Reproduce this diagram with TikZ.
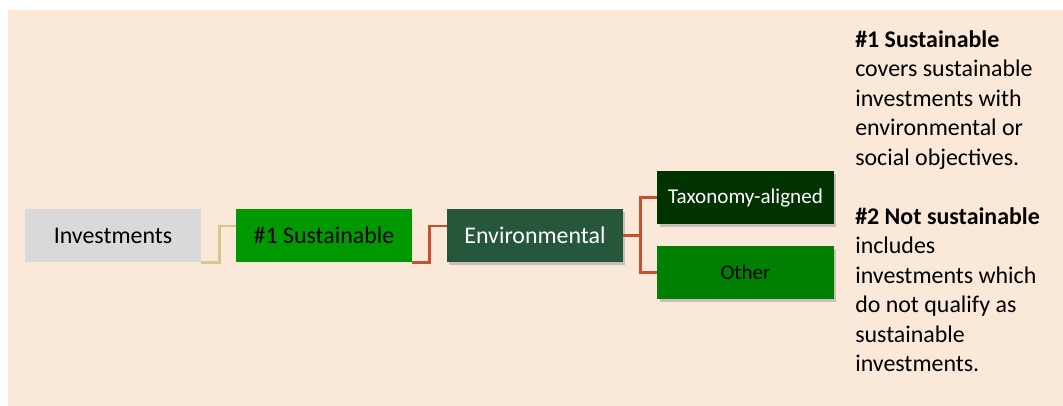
\documentclass[tikz,border=0pt]{standalone}
\usepackage{fontspec}
\setmainfont{Carlito}
\usetikzlibrary{calc}
\usetikzlibrary{positioning}
\usetikzlibrary{shadows}

\definecolor{bgbeige}{RGB}{250,232,216}
\definecolor{invgray}{RGB}{217,217,217}
\definecolor{susgreen}{RGB}{0,153,0}
\definecolor{envgreen}{RGB}{38,87,58}
\definecolor{taxgreen}{RGB}{0,51,0}
\definecolor{othgreen}{RGB}{0,128,0}
\definecolor{tanline}{RGB}{214,200,140}
\definecolor{redline}{RGB}{200,78,48}

\begin{document}
\begin{tikzpicture}[
  x=0.025cm, y=-0.025cm,
  catbox/.style={rectangle, minimum width=4.4cm, minimum height=1.325cm, inner sep=0pt, font=\fontsize{17}{20}\selectfont},
  subbox/.style={catbox, font=\fontsize{15}{18}\selectfont},
  shade box/.style={drop shadow={shadow xshift=1.5pt, shadow yshift=-1.8pt, fill=black!35, opacity=0.6}},
  link/.style={line width=1.8pt},
]

\useasboundingbox (0,0) rectangle (1063,406);
\fill[bgbeige] (8,10) rectangle (1063,406);

\node (inv) [catbox, fill=invgray] at (113,235.5) {Investments};
\node (sus) [catbox, fill=susgreen] at (324,235.5) {\#1 Sustainable};
\node (env) [catbox, fill=envgreen, text=white, shade box] at (535,235.5) {Environmental};
\node (tax) [subbox, fill=taxgreen, text=white, shade box] at (745.5,197.5) {Taxonomy-aligned};
\node (oth) [subbox, fill=othgreen, shade box] at (745.5,272.5) {Other};

\draw[link, tanline]
  (inv.south east) -- ++(18,0) |- ($(sus.west)+(0,-9.5)$);
\draw[link, redline]
  (sus.south east) -- ++(17,0) |- ($(env.west)+(0,-9.5)$);
\draw[link, redline]
  (env.east) -- ++(17,0) coordinate (fork);
\draw[link, redline] (fork) |- (tax.west);
\draw[link, redline] (fork) |- (oth.west);

\node (note) [anchor=north west, inner sep=0pt, align=left, font=\fontsize{17}{21}\selectfont] at (855,30)
  {\textbf{\#1 Sustainable}\\
   covers sustainable\\
   investments with\\
   environmental or\\
   social objectives.\\[21pt]
   \textbf{\#2 Not sustainable}\\
   includes\\
   investments which\\
   do not qualify as\\
   sustainable\\
   investments.};

\end{tikzpicture}
\end{document}
